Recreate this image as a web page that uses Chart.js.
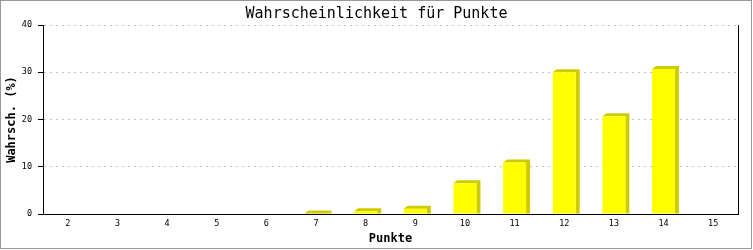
<!DOCTYPE html>
<html>
<head>
<meta charset="utf-8">
<script src="https://cdn.jsdelivr.net/npm/chart.js@4/dist/chart.umd.min.js"></script>
<style>
  html, body { margin: 0; padding: 0; background: #fff; }
  canvas { display: block; }
</style>
</head>
<body>
<canvas id="myChart" width="753" height="250"></canvas>
<script>
//Datos del grafico
var punkte = ['2', '3', '4', '5', '6', '7', '8', '9', '10', '11', '12', '13', '14', '15'];
var wahrscheinlichkeit = [0, 0, 0, 0, 0, 0.1, 0.6, 1.1, 6.5, 10.9, 30.0, 20.7, 30.7, 0];
var yTicks = [0, 10, 20, 30, 40];

var mono = "'DejaVu Sans Mono', 'Liberation Mono', monospace";

//Fondo blanco y marco gris
const fondo = {
      id: 'fondo',
      beforeDraw: function (chart) {
            const c = chart.ctx;
            c.save();
            c.fillStyle = '#ffffff';
            c.fillRect(0, 0, chart.width, chart.height);
            c.restore();
      },
      afterDraw: function (chart) {
            const c = chart.ctx;
            c.save();
            c.strokeStyle = '#999999';
            c.lineWidth = 1;
            c.strokeRect(0.5, 0.5, chart.width - 2, chart.height - 2);
            c.restore();
      }
};

//Efecto 3D de las barras
const profundidad = {
      id: 'profundidad',
      beforeDatasetsDraw: function (chart) {
            const c = chart.ctx;
            const dx = 4, dy = 3;
            const meta = chart.getDatasetMeta(0);
            c.save();
            c.fillStyle = '#cccc00';
            meta.data.forEach(function (bar, i) {
                  if (!wahrscheinlichkeit[i]) return;
                  const p = bar.getProps(['x', 'y', 'base', 'width'], true);
                  const l = p.x - p.width / 2;
                  const r = p.x + p.width / 2;
                  c.beginPath();
                  c.moveTo(l, p.y);
                  c.lineTo(l + dx, p.y - dy);
                  c.lineTo(r + dx, p.y - dy);
                  c.lineTo(r + dx, p.base);
                  c.lineTo(r, p.base);
                  c.lineTo(r, p.y);
                  c.closePath();
                  c.fill();
            });
            c.restore();
      }
};

const ctx = document.getElementById('myChart').getContext('2d');
let myChart = new Chart(ctx, {
      type: 'bar',
      data: {
            labels: punkte,
            datasets: [{
                  label: 'Wahrscheinlichkeit',
                  data: wahrscheinlichkeit,
                  backgroundColor: '#ffff00',
                  borderWidth: 0,
                  barPercentage: 1,
                  categoryPercentage: 0.463
            }]
      },
      options: {
            responsive: false,
            animation: false,
            devicePixelRatio: 1,
            layout: { padding: 0 },
            plugins: {
                  legend: { display: false },
                  tooltip: { enabled: false },
                  title: {
                        display: true,
                        text: 'Wahrscheinlichkeit für Punkte',
                        color: '#000',
                        font: { family: mono, size: 15, weight: 'normal', lineHeight: 1 },
                        padding: { top: 7, bottom: 3 }
                  }
            },
            scales: {
                  x: {
                        grid: { display: false, drawTicks: false },
                        border: { display: true, color: '#000', width: 1 },
                        ticks: {
                              color: '#000',
                              padding: 5,
                              maxRotation: 0,
                              font: { family: mono, size: 8.5 }
                        },
                        title: {
                              display: true,
                              text: 'Punkte',
                              color: '#000',
                              font: { family: mono, size: 12, weight: 'bold' },
                              padding: { top: 0, bottom: 4 }
                        },
                        afterFit: function (scale) { scale.height = 36; }
                  },
                  y: {
                        min: 0,
                        max: 40,
                        afterBuildTicks: function (scale) {
                              scale.ticks = yTicks.map(function (v) { return { value: v }; });
                        },
                        grid: {
                              color: '#c0c0c0',
                              tickColor: '#000',
                              tickBorderDash: [],
                              tickLength: 5
                        },
                        border: { display: true, color: '#000', width: 1, dash: [2, 4] },
                        ticks: {
                              color: '#000',
                              padding: 6,
                              font: { family: mono, size: 8.5 }
                        },
                        title: {
                              display: true,
                              text: 'Wahrsch. (%)',
                              color: '#000',
                              font: { family: mono, size: 12, weight: 'bold' },
                              padding: { top: 5, bottom: 0 }
                        },
                        afterFit: function (scale) { scale.width = 43; }
                  },
                  y2: {
                        position: 'right',
                        min: 0,
                        max: 40,
                        grid: { display: false, drawTicks: false },
                        border: { display: true, color: '#000', width: 1 },
                        ticks: { display: false },
                        afterFit: function (scale) { scale.width = 15; }
                  }
            }
      },
      plugins: [fondo, profundidad]
});
</script>
</body>
</html>
